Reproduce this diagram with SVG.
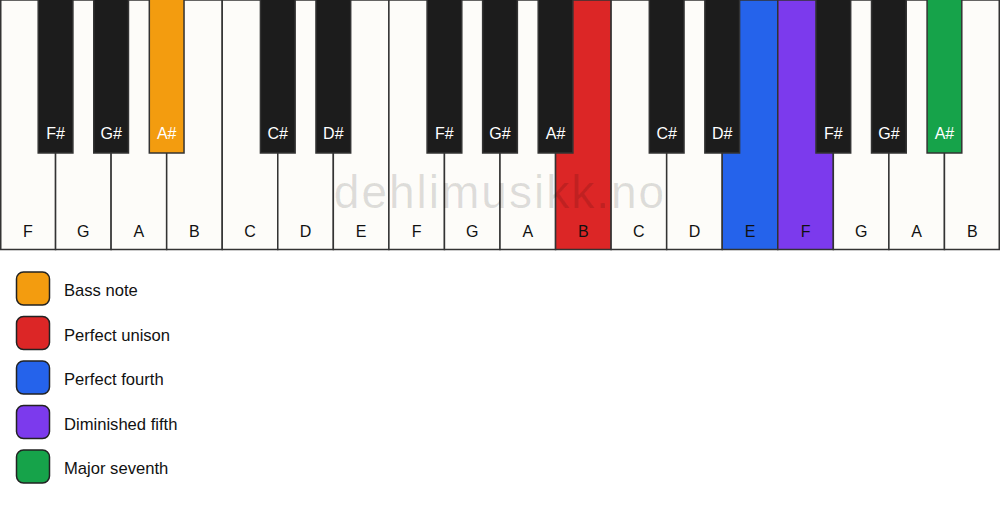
<svg xmlns="http://www.w3.org/2000/svg" width="1000" height="506" viewBox="0 0 1000 506">
<style>
.bg{fill:#ffffff}
.wk{fill:#fdfcf9;stroke:#333;stroke-width:1.5}
.bk{fill:#1c1c1c;stroke:#333;stroke-width:1.5}
.wl{font-family:"Liberation Sans",Arial,sans-serif;font-size:16px;fill:#111;text-anchor:middle}
.bl{font-family:"Liberation Sans",Arial,sans-serif;font-size:16px;fill:#ffffff;text-anchor:middle}
.lg{stroke:#222;stroke-width:1.5}
.lt{font-family:"Liberation Sans",Arial,sans-serif;font-size:16.6px;fill:#111}
.wm{font-family:"Liberation Sans",Arial,sans-serif;font-size:46px;fill:#000;fill-opacity:0.12;text-anchor:middle;letter-spacing:2px}
.or{fill:#f39c0f}.rd{fill:#dc2626}.bu{fill:#2563eb}.pu{fill:#7c3aed}.gr{fill:#16a34a}
</style>
<rect class="bg" x="0" y="0" width="1000" height="506"/>
<g id="white-keys">
<g id="wk-F1"><rect class="wk" x="0.75" y="0" width="54.81" height="249.5"/><text class="wl" x="27.78" y="237">F</text></g>
<g id="wk-G1"><rect class="wk" x="55.56" y="0" width="55.56" height="249.5"/><text class="wl" x="83.33" y="237">G</text></g>
<g id="wk-A1"><rect class="wk" x="111.11" y="0" width="55.56" height="249.5"/><text class="wl" x="138.89" y="237">A</text></g>
<g id="wk-B1"><rect class="wk" x="166.67" y="0" width="55.56" height="249.5"/><text class="wl" x="194.44" y="237">B</text></g>
<g id="wk-C1"><rect class="wk" x="222.22" y="0" width="55.56" height="249.5"/><text class="wl" x="250" y="237">C</text></g>
<g id="wk-D1"><rect class="wk" x="277.78" y="0" width="55.56" height="249.5"/><text class="wl" x="305.56" y="237">D</text></g>
<g id="wk-E1"><rect class="wk" x="333.33" y="0" width="55.56" height="249.5"/><text class="wl" x="361.11" y="237">E</text></g>
<g id="wk-F2"><rect class="wk" x="388.89" y="0" width="55.56" height="249.5"/><text class="wl" x="416.67" y="237">F</text></g>
<g id="wk-G2"><rect class="wk" x="444.44" y="0" width="55.56" height="249.5"/><text class="wl" x="472.22" y="237">G</text></g>
<g id="wk-A2"><rect class="wk" x="500" y="0" width="55.56" height="249.5"/><text class="wl" x="527.78" y="237">A</text></g>
<g id="wk-B2"><rect class="wk rd" x="555.56" y="0" width="55.56" height="249.5"/><text class="wl" x="583.33" y="237">B</text></g>
<g id="wk-C2"><rect class="wk" x="611.11" y="0" width="55.56" height="249.5"/><text class="wl" x="638.89" y="237">C</text></g>
<g id="wk-D2"><rect class="wk" x="666.67" y="0" width="55.56" height="249.5"/><text class="wl" x="694.44" y="237">D</text></g>
<g id="wk-E2"><rect class="wk bu" x="722.22" y="0" width="55.56" height="249.5"/><text class="wl" x="750" y="237">E</text></g>
<g id="wk-F3"><rect class="wk pu" x="777.78" y="0" width="55.56" height="249.5"/><text class="wl" x="805.56" y="237">F</text></g>
<g id="wk-G3"><rect class="wk" x="833.33" y="0" width="55.56" height="249.5"/><text class="wl" x="861.11" y="237">G</text></g>
<g id="wk-A3"><rect class="wk" x="888.89" y="0" width="55.56" height="249.5"/><text class="wl" x="916.67" y="237">A</text></g>
<g id="wk-B3"><rect class="wk" x="944.44" y="0" width="54.81" height="249.5"/><text class="wl" x="972.22" y="237">B</text></g>
</g>
<g id="black-keys">
<g id="bk-Fs1"><rect class="bk" x="38.2" y="-1" width="34.72" height="154"/><text class="bl" x="55.56" y="139">F#</text></g>
<g id="bk-Gs1"><rect class="bk" x="93.75" y="-1" width="34.72" height="154"/><text class="bl" x="111.11" y="139">G#</text></g>
<g id="bk-As1"><rect class="bk or" x="149.31" y="-1" width="34.72" height="154"/><text class="bl" x="166.67" y="139">A#</text></g>
<g id="bk-Cs1"><rect class="bk" x="260.42" y="-1" width="34.72" height="154"/><text class="bl" x="277.78" y="139">C#</text></g>
<g id="bk-Ds1"><rect class="bk" x="315.97" y="-1" width="34.72" height="154"/><text class="bl" x="333.33" y="139">D#</text></g>
<g id="bk-Fs2"><rect class="bk" x="427.08" y="-1" width="34.72" height="154"/><text class="bl" x="444.44" y="139">F#</text></g>
<g id="bk-Gs2"><rect class="bk" x="482.64" y="-1" width="34.72" height="154"/><text class="bl" x="500" y="139">G#</text></g>
<g id="bk-As2"><rect class="bk" x="538.2" y="-1" width="34.72" height="154"/><text class="bl" x="555.56" y="139">A#</text></g>
<g id="bk-Cs2"><rect class="bk" x="649.31" y="-1" width="34.72" height="154"/><text class="bl" x="666.67" y="139">C#</text></g>
<g id="bk-Ds2"><rect class="bk" x="704.86" y="-1" width="34.72" height="154"/><text class="bl" x="722.22" y="139">D#</text></g>
<g id="bk-Fs3"><rect class="bk" x="815.97" y="-1" width="34.72" height="154"/><text class="bl" x="833.33" y="139">F#</text></g>
<g id="bk-Gs3"><rect class="bk" x="871.53" y="-1" width="34.72" height="154"/><text class="bl" x="888.89" y="139">G#</text></g>
<g id="bk-As3"><rect class="bk gr" x="927.08" y="-1" width="34.72" height="154"/><text class="bl" x="944.44" y="139">A#</text></g>
</g>
<text class="wm" x="500" y="208">dehlimusikk.no</text>
<g id="legend">
<g id="lg-bass"><rect class="lg or" x="16.5" y="272" width="33" height="33" rx="7"/><text class="lt" x="64" y="296">Bass note</text></g>
<g id="lg-unison"><rect class="lg rd" x="16.5" y="316.5" width="33" height="33" rx="7"/><text class="lt" x="64" y="340.5">Perfect unison</text></g>
<g id="lg-fourth"><rect class="lg bu" x="16.5" y="361" width="33" height="33" rx="7"/><text class="lt" x="64" y="385">Perfect fourth</text></g>
<g id="lg-fifth"><rect class="lg pu" x="16.5" y="405.5" width="33" height="33" rx="7"/><text class="lt" x="64" y="429.5">Diminished fifth</text></g>
<g id="lg-seventh"><rect class="lg gr" x="16.5" y="450" width="33" height="33" rx="7"/><text class="lt" x="64" y="474">Major seventh</text></g>
</g>
</svg>
